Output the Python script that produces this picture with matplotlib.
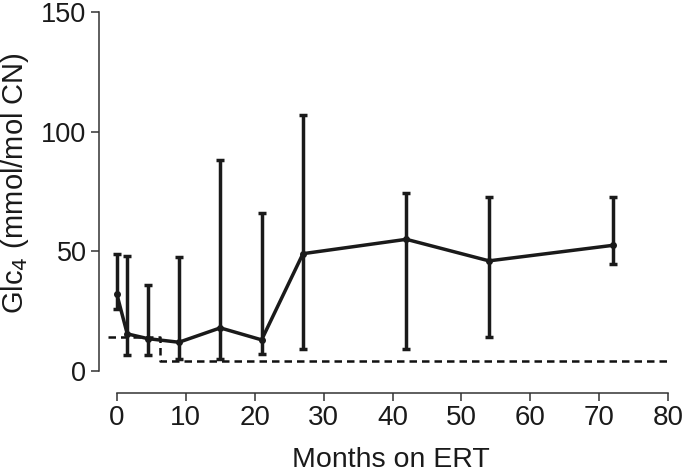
import matplotlib
matplotlib.use('Agg')
import numpy as np
import matplotlib.pyplot as plt

plt.rcParams['font.family'] = ['Liberation Sans', 'DejaVu Sans']

# Glc4 over months on ERT
months = [0, 1.5, 4.5, 9, 15, 21, 27, 42, 54, 72]
glc4_mean = [32, 15.5, 13.5, 12, 18, 13, 49, 55, 46, 52.5]
glc4_low = [26, 6.5, 6.5, 5, 5, 7, 9, 9, 14, 44.5]
glc4_high = [49, 48, 36, 47.5, 88, 66, 107, 74.5, 72.5, 72.5]

# reference (dashed) line
ref_x = [-1.3, 6.2, 6.2, 80]
ref_y = [14, 14, 4, 4]

mean = np.array(glc4_mean)
yerr = [mean - np.array(glc4_low), np.array(glc4_high) - mean]

fig = plt.figure(figsize=(6.85, 4.72), dpi=100)
ax = fig.add_axes([0.1445, 0.1674, 0.841, 0.8114])

ax.plot(ref_x, ref_y, color='#111111', lw=1.8, ls=(0, (3, 2)))
ax.errorbar(months, glc4_mean, yerr=yerr, color='#1a1a1a', lw=2.5,
            elinewidth=2.5, capsize=3.2, capthick=2.5, marker='o', ms=4)

ax.set_xlim(-2.6, 81)
ax.set_ylim(-9.2, 150.8)
ax.spines['top'].set_visible(False)
ax.spines['right'].set_visible(False)
ax.spines['left'].set_bounds(0, 150)
ax.spines['bottom'].set_bounds(0, 80)
for s in ('left', 'bottom'):
    ax.spines[s].set_color('#333333')
    ax.spines[s].set_linewidth(1.1)

ax.set_xticks(range(0, 81, 10))
ax.set_yticks([0, 50, 100, 150])
ax.tick_params(direction='out', length=6, width=1.1, color='#333333',
               labelcolor='#1a1a1a')
ax.tick_params(axis='x', labelsize=20, pad=3)
ax.tick_params(axis='y', labelsize=19.5, pad=3)

ax.set_xlabel('Months on ERT', fontsize=20.5, color='#1a1a1a', va='center')
ax.xaxis.set_label_coords(0.506, -0.175)
ax.set_ylabel('Glc$_4$ (mmol/mol CN)', fontsize=21, color='#1a1a1a', va='center')
ax.yaxis.set_label_coords(-0.146, 0.548)

fig.savefig('out.png', dpi=100)
